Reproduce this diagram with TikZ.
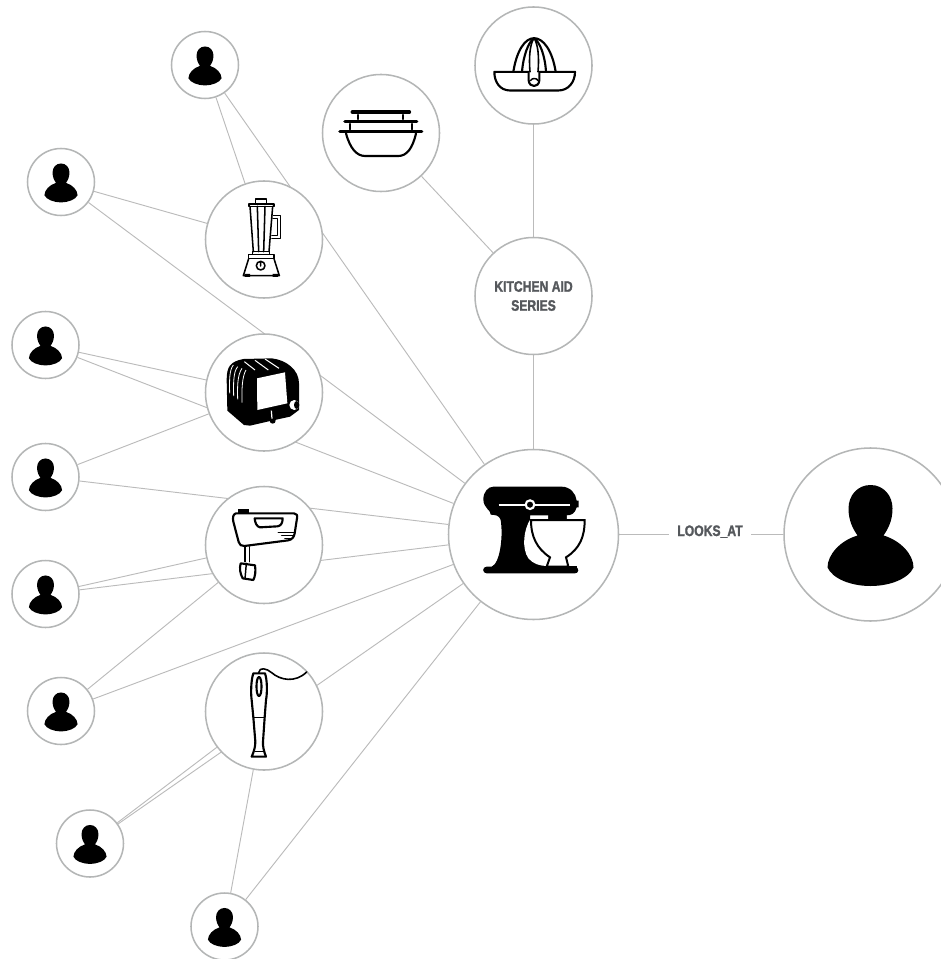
\documentclass[tikz,border=0pt]{standalone}
\usepackage{fontspec}
\usetikzlibrary{backgrounds}
\newfontfamily\labelfont[FakeStretch=0.8,FakeBold=1.6,UprightFont={* Bold}]{Liberation Sans}
\definecolor{ringgray}{HTML}{B4B6B6}
\definecolor{edgegray}{HTML}{BBBBBB}
\definecolor{labelgray}{HTML}{55585C}
\tikzset{
	circlenode/.style={circle, draw=ringgray, line width=1.15pt, fill=white, inner sep=0pt},
	usernode/.style={circlenode, minimum size=50.25pt},
	itemnode/.style={circlenode, minimum size=87.75pt, align=center, text=labelgray, font=\labelfont\fontsize{11.4}{14.25}\selectfont},
	mainnode/.style={circlenode, minimum size=127.5pt},
	viewernode/.style={circlenode, minimum size=129.75pt},
	relnode/.style={inner sep=0pt, minimum width=61.5pt, text height=8pt, text depth=5.75pt, text=labelgray, font=\labelfont\fontsize{11.4}{12}\selectfont},
	edgeline/.style={draw=edgegray, line width=.7pt},
	iconline/.style={line width=1.6pt, line cap=round, line join=round},
	usericon/.pic={
		\fill[black] (0,-49.5) .. controls (13,-49.5) and (22,-39) .. (22,-26) .. controls (22,-13) and (17,-5) .. (13,1)
			.. controls (30,6) and (43,20) .. (43,33) .. controls (38,44) and (20,51.5) .. (0,51.5)
			.. controls (-20,51.5) and (-38,44) .. (-43,33) .. controls (-43,20) and (-30,6) .. (-13,1)
			.. controls (-17,-5) and (-22,-13) .. (-22,-26) .. controls (-22,-39) and (-13,-49.5) .. (0,-49.5) -- cycle;
	},
	mixericon/.pic={
		\begin{scope}[scale=.3333, shift={(-280.5,-283.5)}]
			\fill[black] (160,140) -- (365,140) .. controls (390,140) and (408,160) .. (410,182) -- (416,182) -- (416,202) -- (410,202)
				.. controls (405,220) and (395,226) .. (380,226) -- (380,240) -- (325,240) -- (325,226) -- (270,226) -- (270,240)
				-- (275,340) -- (340,375) -- (405,380) .. controls (418,382) and (418,400) .. (405,400) -- (140,400)
				.. controls (126,400) and (126,380) .. (140,380) -- (155,380) .. controls (180,370) and (190,290) .. (182,240)
				.. controls (178,225) and (165,225) .. (152,224) .. controls (155,212) and (130,205) .. (130,178)
				.. controls (130,155) and (145,140) .. (160,140) -- cycle;
			\fill[white] (272,236) .. controls (250,270) and (245,325) .. (265,355) .. controls (280,372) and (300,378) .. (322,378) -- (330,300) -- cycle;
			\fill[black] (325,226) rectangle (350,240) (355,226) rectangle (380,240);
			\draw[white, line width=1.7pt] (176,194) -- (390,194);
			\filldraw[fill=black, draw=white, line width=1.6pt] (270,194) circle (13);
			\draw[black, fill=white, line width=1.5pt, line join=miter] (273,240) -- (434,240) .. controls (434,290) and (420,325) .. (378,352) -- (385,380)
				-- (320,380) -- (330,352) .. controls (290,325) and (273,290) .. (273,240) -- cycle;
			\fill[black] (300,378) rectangle (410,400);
		\end{scope}
	},
	blendericon/.pic={
		\begin{scope}[scale=.3333, shift={(-192,-178.5)}, iconline, line width=1.15pt]
			\draw (166,72) -- (166,57) -- (200,57) -- (200,72);
			\draw (147,72) -- (222,72) -- (222,79) -- (147,79) -- cycle;
			\draw (150,79) -- (160,215) (218,79) -- (207,215) (172,79) -- (176,215) (195,79) -- (191,215);
			\draw (220,107) -- (242,107) -- (242,175) -- (216,175) (219,116) -- (233,116) -- (233,167) -- (216,167);
			\draw (158,215) -- (208,215) -- (208,223) -- (158,223) -- cycle;
			\draw (146,223) -- (222,223) -- (222,236) -- (146,236) -- cycle;
			\draw (146,236) -- (130,287) -- (238,287) -- (222,236);
			\draw (182,257) circle (13) (182,248) -- (182,258);
			\fill[black] (134,282) rectangle (150,291) (218,282) rectangle (234,291);
		\end{scope}
	},
	toastericon/.pic={
		\begin{scope}[scale=.3333, shift={(-192,-637.5)}]
			\fill[black] (80,600) .. controls (80,560) and (90,545) .. (130,537) -- (215,535) .. controls (260,540) and (297,570) .. (297,610)
				-- (297,690) -- (270,710) -- (215,722) -- (150,737) -- (132,735) -- (82,692) -- cycle;
			\fill[black] (218,722) circle (9);
			\fill[white] (171,595) -- (255,577) -- (262,670) -- (172,690) -- cycle;
			\draw[white, line width=.75pt] (133,545) -- (165,570) (165,541) -- (205,570) (195,537) -- (237,565);
			\draw[white, line width=.6pt] (89,640) .. controls (88,600) and (88,570) .. (100,555)
				(101,648) .. controls (100,610) and (100,575) .. (113,560)
				(113,658) .. controls (112,620) and (112,585) .. (126,565)
				(126,668) .. controls (125,630) and (126,590) .. (138,570);
			\draw[white, line width=.9pt] (214,692) -- (216,716);
			\fill[white] (283,675) circle (15);
			\fill[black] (290,675) ellipse (8 and 12);
		\end{scope}
	},
	handmixericon/.pic={
		\begin{scope}[scale=.3333, shift={(-192,-195)}, iconline]
			\draw (108,100) -- (282,100) .. controls (290,100) and (293,106) .. (291,115) -- (284,160)
				.. controls (282,172) and (275,179) .. (265,181) -- (133,198) .. controls (124,199) and (118,194) .. (116,186)
				-- (100,125) .. controls (97,112) and (100,102) .. (108,100) -- cycle;
			\fill[black] (115,88) rectangle (146,100);
			\draw (164,115) -- (248,115) .. controls (248,130) and (242,138) .. (232,139) -- (180,142) .. controls (170,140) and (165,128) .. (164,115) -- cycle;
			\draw[line width=1.2pt] (235,158) -- (285,158) (245,167) -- (282,167) (255,176) -- (272,176);
			\draw[line width=1.15pt] (135,200) -- (135,245) (148,200) -- (148,245);
			\draw (122,250) -- (165,256) .. controls (168,275) and (165,290) .. (160,300) -- (128,295) .. controls (120,280) and (118,265) .. (122,250) -- cycle;
			\draw[line width=1.1pt] (139,250) -- (135,296);
		\end{scope}
	},
	stickicon/.pic={
		\begin{scope}[scale=.3333, shift={(-192,-694.5)}, iconline]
			\draw (160,580) -- (195,580) .. controls (202,600) and (202,640) .. (198,660) -- (194,712) -- (189,785) .. controls (188,800) and (192,815) .. (198,830)
				-- (155,830) .. controls (162,815) and (166,800) .. (166,785) -- (160,712) -- (155,660) .. controls (152,640) and (153,600) .. (160,580) -- cycle;
			\draw (177,591) .. controls (187,591) and (187,648) .. (177,648) .. controls (167,648) and (167,591) .. (177,591) -- cycle;
			\draw[line width=1.15pt] (160,712) -- (194,712) (166,814) -- (190,814);
			\draw[line width=1.2pt] (176,578) .. controls (178,560) and (200,565) .. (215,578) .. controls (240,600) and (285,610) .. (320,576);
		\end{scope}
	},
	juicericon/.pic={
		\begin{scope}[scale=.3333, shift={(-640.5,-195)}, iconline]
			\draw (523,214) -- (626,214) -- (626,240) .. controls (628,262) and (656,262) .. (658,240) -- (658,214) -- (765,214)
				.. controls (765,245) and (745,270) .. (715,270) -- (570,270) .. controls (540,270) and (523,245) .. (523,214) -- cycle;
			\draw (580,214) .. controls (590,150) and (615,113) .. (642,113) .. controls (670,113) and (697,150) .. (707,214);
			\draw (606,214) .. controls (610,165) and (625,125) .. (642,113) .. controls (660,125) and (675,165) .. (678,214);
			\draw[line width=1.2pt] (630,214) .. controls (626,170) and (630,130) .. (642,113) .. controls (654,130) and (658,170) .. (654,214);
			\draw[line width=1.1pt] (632,240) .. controls (636,232) and (650,232) .. (654,240);
		\end{scope}
	},
	bowlicon/.pic={
		\begin{scope}[scale=.3333, shift={(-183,-399)}, iconline]
			\draw[line width=2.7pt] (97,336) -- (268,336) (75,364) -- (290,364) (60,394) -- (305,394);
			\draw (115,345) -- (115,357) (250,345) -- (250,357) (90,372) -- (90,388) (275,372) -- (275,388);
			\draw (78,400) .. controls (90,445) and (110,468) .. (135,468) -- (235,468) .. controls (260,468) and (278,445) .. (288,400);
		\end{scope}
	},
}

\begin{document}
\begin{tikzpicture}[x=.75pt, y=-.75pt]
	\useasboundingbox (0,0) rectangle (941,959);
	\clip (0,0) rectangle (941,959);

	\node[mainnode] (mixer) at (533.5,534.5) {};
	\node[viewernode] (viewer) at (870.5,534.5) {};
	\node[relnode] (looksat) at (710,534.5) {LOOKS\_AT};
	\node[itemnode] (series) at (533.5,296) {KITCHEN AID\\SERIES};
	\node[itemnode] (juicer) at (533.5,65.5) {};
	\node[itemnode] (bowls) at (381,133) {};
	\node[itemnode] (blender) at (264,239.5) {};
	\node[itemnode] (toaster) at (264,392.5) {};
	\node[itemnode] (handmixer) at (264,545) {};
	\node[itemnode] (stick) at (264,711.5) {};
	\node[usernode] (u1) at (205,65) {};
	\node[usernode] (u2) at (61,182) {};
	\node[usernode] (u3) at (45.5,345) {};
	\node[usernode] (u4) at (45.5,477) {};
	\node[usernode] (u5) at (45.5,594) {};
	\node[usernode] (u6) at (61,711) {};
	\node[usernode] (u7) at (90,843.5) {};
	\node[usernode] (u8) at (224.5,926.5) {};

	\begin{scope}[on background layer]
		\foreach \from/\to in {u1/blender, u2/blender, u3/toaster, u4/toaster, u5/handmixer, u6/handmixer, u7/stick, u8/stick,
			u1/mixer, u2/mixer, u3/mixer, u4/mixer, u5/mixer, u6/mixer, u7/mixer, u8/mixer,
			juicer/series, bowls/series, series/mixer, mixer/looksat, looksat/viewer}
			\draw[edgeline] (\from) -- (\to);
	\end{scope}

	\foreach \user in {u1,u2,u3,u4,u5,u6,u7,u8}
		\pic[scale=.385, yshift=-1pt] at (\user) {usericon};
	\pic at (viewer) {usericon};
	\pic at (mixer) {mixericon};
	\pic at (blender) {blendericon};
	\pic at (toaster) {toastericon};
	\pic at (handmixer) {handmixericon};
	\pic at (stick) {stickicon};
	\pic at (juicer) {juicericon};
	\pic at (bowls) {bowlicon};
\end{tikzpicture}
\end{document}
